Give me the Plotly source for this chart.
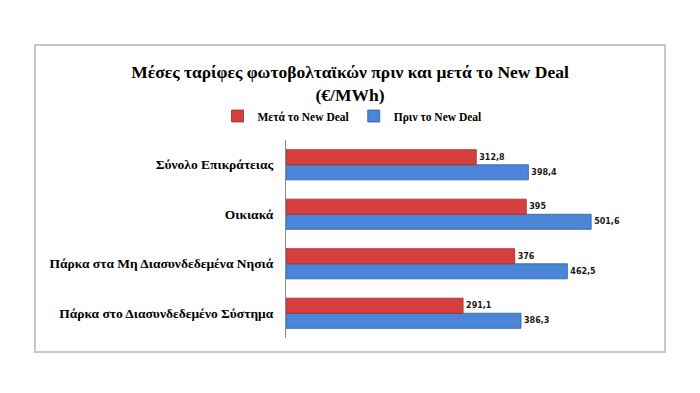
import plotly.graph_objects as go

categories = [
    "Πάρκα στο Διασυνδεδεμένο Σύστημα",
    "Πάρκα στα Μη Διασυνδεδεμένα Νησιά",
    "Οικιακά",
    "Σύνολο Επικράτειας",
]
before_values = [386.3, 462.5, 501.6, 398.4]
after_values = [291.1, 376, 395, 312.8]
before_name = "Πριν το New Deal"
after_name = "Μετά το New Deal"
title_text = "Μέσες ταρίφες φωτοβολταϊκών πριν και μετά το New Deal<br>(€/MWh)"


def fmt(v):
    return ("%g" % v).replace(".", ",")


# page offset of the figure inside the browser window (default body margin)
OFF = 8
W, H = 700 - OFF, 393 - OFF
# target pixel positions (window coordinates)
PL, PR, PT, PB = 286, 651, 140, 338
ml, mr, mt, mb = PL - OFF, W - (PR - OFF), PT - OFF, H - (PB - OFF)
pw, ph = W - ml - mr, H - mt - mb


def px_x(x):
    return (x - OFF - ml) / pw


def px_y(y):
    return (H - (y - OFF) - mb) / ph


fig = go.Figure()
fig.add_trace(go.Bar(
    y=categories, x=before_values, orientation="h", name=before_name,
    marker=dict(color="#4A85D8", line=dict(color="#2F5F9E", width=0.8)),
    text=[fmt(v) for v in before_values], textposition="outside",
    textfont=dict(family="DejaVu Sans", size=8, color="#1a1a1a", weight="bold"),
    cliponaxis=False,
))
fig.add_trace(go.Bar(
    y=categories, x=after_values, orientation="h", name=after_name,
    marker=dict(color="#D5403F", line=dict(color="#9E2B2A", width=0.8)),
    text=[fmt(v) for v in after_values], textposition="outside",
    textfont=dict(family="DejaVu Sans", size=8, color="#1a1a1a", weight="bold"),
    cliponaxis=False,
))

fig.update_layout(
    width=W, height=H,
    paper_bgcolor="white", plot_bgcolor="white",
    barmode="group", bargap=0.39, bargroupgap=0,
    margin=dict(l=ml, r=mr, t=mt, b=mb, autoexpand=False),
    title=dict(text=title_text, xref="container", x=(350 - OFF) / W, xanchor="center",
               yref="container", y=1 - (78 - OFF) / H, yanchor="middle",
               font=dict(family="Liberation Serif", size=17.5, color="black", weight="bold")),
    legend=dict(orientation="h", x=px_x(352), xanchor="center", y=px_y(116), yanchor="middle",
                traceorder="reversed",
                font=dict(family="Liberation Serif", size=11.5, color="black", weight="bold"),
                itemwidth=30),
    showlegend=True,
)
fig.update_xaxes(range=[0, 600], visible=False, showgrid=False, zeroline=False)
fig.update_yaxes(showline=True, linecolor="#8C8C8C", linewidth=1, ticks="",
                 showgrid=False, ticklabelstandoff=9,
                 tickfont=dict(family="Liberation Serif", size=13.5, color="black", weight="bold"))

fig.add_shape(type="rect", xref="paper", yref="paper",
              x0=px_x(35), x1=px_x(665), y0=px_y(352), y1=px_y(45),
              line=dict(color="#C8C8C8", width=2), fillcolor="rgba(0,0,0,0)", layer="below")

fig.write_html("out.html")
